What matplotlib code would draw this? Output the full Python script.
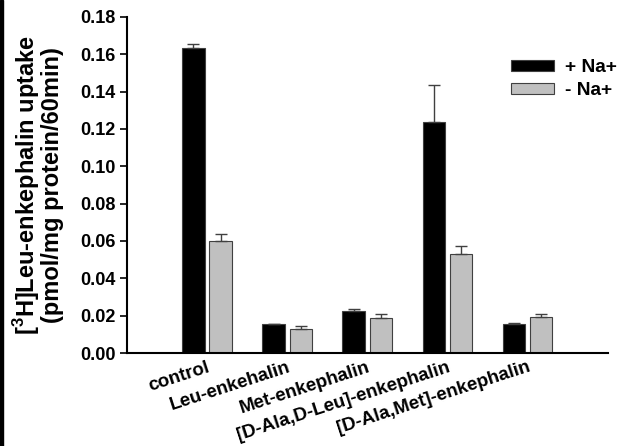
import numpy as np
import matplotlib
matplotlib.use("Agg")
import matplotlib.pyplot as plt
from matplotlib.patches import Rectangle

plt.rcParams['font.family'] = ['Liberation Sans', 'DejaVu Sans']
plt.rcParams['font.weight'] = 'bold'
plt.rcParams['mathtext.fontset'] = 'custom'
plt.rcParams['mathtext.rm'] = 'Liberation Sans:bold'
plt.rcParams['mathtext.bf'] = 'Liberation Sans:bold'

# data
categories = ['control', 'Leu-enkehalin', 'Met-enkephalin',
              '[D-Ala,D-Leu]-enkephalin', '[D-Ala,Met]-enkephalin']
with_na = [0.1632, 0.0155, 0.0223, 0.1236, 0.0155]
with_na_err = [0.0023, 0.0003, 0.0014, 0.0200, 0.0008]
without_na = [0.0600, 0.0129, 0.0189, 0.0528, 0.0194]
without_na_err = [0.0040, 0.0016, 0.0018, 0.0044, 0.0015]

x = np.arange(1, len(categories) + 1)
w = 0.28
off = 0.17

fig = plt.figure(figsize=(6.22, 4.46), dpi=100)
ax = fig.add_axes([0.204, 0.2085, 0.773, 0.7535])

ax.bar(x - off, with_na, w, color='black', edgecolor='#404040', linewidth=0.8,
       yerr=[np.zeros(5), with_na_err], ecolor='#404040',
       error_kw=dict(capsize=4, elinewidth=1, capthick=1), label='+ Na+')
ax.bar(x + off, without_na, w, color='#c0c0c0', edgecolor='#404040', linewidth=0.8,
       yerr=[np.zeros(5), without_na_err], ecolor='#404040',
       error_kw=dict(capsize=4, elinewidth=1, capthick=1), label='- Na+')

ax.set_xlim(0, 6)
ax.set_ylim(0, 0.18)
ticks = np.arange(0, 0.181, 0.02)
ax.set_yticks(ticks)
ax.set_yticklabels(['%.2f' % v for v in ticks], fontsize=13, fontweight='bold')
ax.set_xticks(x)
ax.set_xticklabels(categories, rotation=18, ha='right', va='top', rotation_mode='anchor',
                   fontsize=13.5, fontweight='bold')
ax.tick_params(axis='x', length=0, pad=4)
ax.tick_params(axis='y', direction='out', length=5, width=1.2, pad=3)

for s in ['top', 'right']:
    ax.spines[s].set_visible(False)
for s in ['left', 'bottom']:
    ax.spines[s].set_linewidth(1.5)

ax.set_ylabel('[$^3$H]Leu-enkephalin uptake\n(pmol/mg protein/60min)',
              fontsize=17, fontweight='bold', labelpad=12, linespacing=0.9)

ax.legend(loc='upper right', bbox_to_anchor=(1.055, 0.925), frameon=False,
          prop=dict(size=13.8, weight='bold'),
          handlelength=2.25, handleheight=0.55, handletextpad=0.55, labelspacing=0.3)

# thin dark strip on the left edge of the original image
fig.patches.append(Rectangle((0, 0), 3 / 622, 1, transform=fig.transFigure,
                             color='black', zorder=10))

fig.savefig('out.png', dpi=100)
